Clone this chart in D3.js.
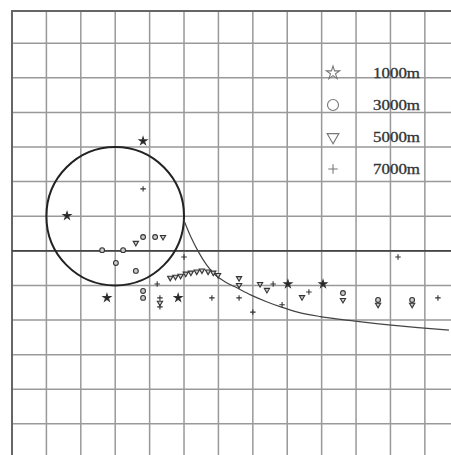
<!DOCTYPE html>
<html>
<head>
<meta charset="utf-8">
<script src="https://cdn.jsdelivr.net/npm/d3@7"></script>
<style>
  body { margin: 0; background: #fff; }
  svg { display: block; }
  .grid line { stroke: #999; stroke-width: 1.5; }
  .legend text { font-family: "Liberation Serif", "DejaVu Serif", serif; font-size: 14px; fill: #333; stroke: #333; stroke-width: 0.3; }
</style>
</head>
<body>
<div id="chart"></div>
<script>
var W = 451, H = 455;

// data, in grid units (x right, y up; y = 0 is the dark axis line)
var stars1000 = [[3.81, 3.17], [1.60, 1.01], [2.76, -1.36], [4.83, -1.36], [8.02, -0.96], [9.04, -0.96]];
var circles3000 = [[2.62, 0.02], [3.23, 0.02], [3.02, -0.35], [3.60, -0.58], [3.81, 0.40], [4.16, 0.40],
                   [3.81, -1.16], [3.81, -1.36], [9.62, -1.22], [10.64, -1.42], [11.63, -1.42]];
var tri5000 = [[4.39, 0.40], [3.60, 0.23], [4.60, -0.78], [4.75, -0.75], [4.90, -0.72], [5.05, -0.66],
               [5.20, -0.63], [5.37, -0.60], [5.52, -0.57], [5.70, -0.60], [5.85, -0.63], [5.99, -0.70],
               [6.60, -0.79], [6.60, -0.99], [7.21, -0.96], [7.41, -1.13], [8.43, -1.34],
               [9.62, -1.42], [10.64, -1.56], [11.63, -1.56], [4.30, -1.50]];
var plus7000 = [[3.81, 1.79], [5.00, -0.18], [11.22, -0.18], [5.81, -1.36], [6.60, -1.36], [7.00, -1.77],
                [7.85, -1.56], [7.59, -0.96], [8.63, -1.19], [12.38, -1.36], [4.22, -0.96], [4.30, -1.36], [4.30, -1.62]];
// the big circle: centre and radius
var ringCentre = [3, 1], ringRadius = 2;
// the descending curve to the right of the circle
var curvePts = [[4.99, 0.90], [5.20, 0.40], [5.42, -0.03], [5.65, -0.40], [5.91, -0.70], [6.20, -0.90],
                [6.48, -1.04], [6.95, -1.28], [7.40, -1.47], [7.81, -1.62], [8.30, -1.77], [8.96, -1.90],
                [9.97, -2.03], [10.95, -2.14], [11.80, -2.22], [12.70, -2.29]];
var legendLabels = ["1000m", "3000m", "5000m", "7000m"];

var x = d3.scaleLinear().domain([0, 12.76]).range([12, 451]);
var y = d3.scaleLinear().domain([-5.9, 6.93]).range([455, 11]);

var svg = d3.select("#chart").append("svg")
    .attr("width", W)
    .attr("height", H);

// grid
var grid = svg.append("g").attr("class", "grid");
grid.selectAll(".vx").data(d3.range(1, 13)).enter().append("line")
    .attr("x1", function(d) { return x(d); }).attr("x2", function(d) { return x(d); })
    .attr("y1", y(6.93)).attr("y2", H);
grid.selectAll(".hy").data(d3.range(-5, 7)).enter().append("line")
    .attr("x1", x(0)).attr("x2", W)
    .attr("y1", function(d) { return y(d); }).attr("y2", function(d) { return y(d); });

// frame (top + left) and the zero axis
svg.append("path")
    .attr("d", "M" + x(0) + "," + H + "V" + y(6.93) + "H" + W)
    .attr("fill", "none").attr("stroke", "#666").attr("stroke-width", 2);
svg.append("line")
    .attr("x1", x(0)).attr("x2", W).attr("y1", y(0)).attr("y2", y(0))
    .attr("stroke", "#444").attr("stroke-width", 1.8);

// big circle
svg.append("ellipse")
    .attr("cx", x(ringCentre[0])).attr("cy", y(ringCentre[1]))
    .attr("rx", x(ringRadius) - x(0)).attr("ry", y(0) - y(ringRadius))
    .attr("fill", "none").attr("stroke", "#222").attr("stroke-width", 2);

// curve
var line = d3.line()
    .curve(d3.curveMonotoneX)
    .x(function(d) { return x(d[0]); })
    .y(function(d) { return y(d[1]); });
svg.append("path")
    .datum(curvePts)
    .attr("d", line)
    .attr("fill", "none").attr("stroke", "#444").attr("stroke-width", 1.2);

// a thin plus sign for d3.symbol
var symbolPlus = {
  draw: function(ctx, size) {
    var r = Math.sqrt(size) / 2;
    ctx.moveTo(-r, 0); ctx.lineTo(r, 0);
    ctx.moveTo(0, -r); ctx.lineTo(0, r);
  }
};

var series = [
  {data: stars1000, type: d3.symbolStar, size: 18, fill: "#222", rot: 0},
  {data: circles3000, type: d3.symbolCircle, size: 18, fill: "#ccc", rot: 0},
  {data: tri5000, type: d3.symbolTriangle, size: 12, fill: "#ccc", rot: 180},
  {data: plus7000, type: symbolPlus, size: 30, fill: "none", rot: 0}
];

series.forEach(function(s) {
  svg.append("g").selectAll("path")
    .data(s.data)
    .enter().append("path")
    .attr("d", d3.symbol().type(s.type).size(s.size))
    .attr("transform", function(d) { return "translate(" + x(d[0]) + "," + y(d[1]) + ") rotate(" + s.rot + ")"; })
    .attr("fill", s.fill)
    .attr("stroke", "#333")
    .attr("stroke-width", 1.1);
});

// legend
var legend = svg.append("g").attr("class", "legend");
var legendY = [73, 105, 137, 169];
var legendSizes = [55, 95, 60, 90];
legendLabels.forEach(function(lab, i) {
  var s = series[i];
  legend.append("path")
    .attr("d", d3.symbol().type(s.type).size(legendSizes[i]))
    .attr("transform", "translate(333," + legendY[i] + ") rotate(" + s.rot + ")")
    .attr("fill", "none")
    .attr("stroke", "#777")
    .attr("stroke-width", 1.1);
  legend.append("text")
    .attr("x", 373).attr("y", legendY[i] + 4.5)
    .attr("textLength", 47).attr("lengthAdjust", "spacingAndGlyphs")
    .text(lab);
});
</script>
</body>
</html>
